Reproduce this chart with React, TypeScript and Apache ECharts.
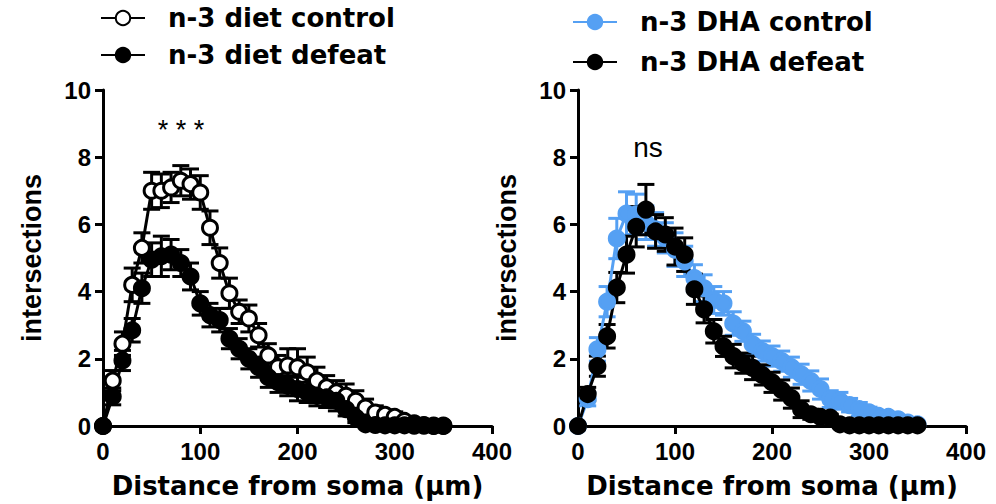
import React, { useEffect, useRef } from "react";
import * as echarts from "echarts";

// Sholl analysis: distance from soma (µm)
const DISTANCE = [
  0, 10, 20, 30, 40, 50, 60, 70, 80, 90, 100, 110, 120, 130, 140, 150, 160, 170,
  180, 190, 200, 210, 220, 230, 240, 250, 260, 270, 280, 290, 300, 310, 320, 330,
  340, 350,
];

const X_TICKS = [0, 100, 200, 300, 400];
const Y_TICKS = [0, 2, 4, 6, 8, 10];

// n-3 diet panel
const DIET_CONTROL = [
  0, 1.35, 2.45, 4.2, 5.3, 7.0, 7.0, 7.1, 7.3, 7.2, 6.95, 5.9, 4.85, 3.95, 3.4,
  3.2, 2.7, 2.1, 1.75, 1.8, 1.75, 1.6, 1.35, 1.15, 1.0, 0.9, 0.75, 0.55, 0.4,
  0.33, 0.27, 0.15, 0.08, 0.03, 0, 0,
];
const DIET_CONTROL_SEM = [
  0, 0.3, 0.35, 0.5, 0.45, 0.55, 0.5, 0.45, 0.45, 0.45, 0.5, 0.5, 0.45, 0.45,
  0.35, 0.4, 0.35, 0.35, 0.35, 0.5, 0.55, 0.45, 0.4, 0.35, 0.35, 0.35, 0.3,
  0.25, 0.2, 0.15, 0.15, 0.1, 0.05, 0.03, 0, 0,
];
const DIET_DEFEAT = [
  0, 0.88, 1.95, 2.85, 4.1, 4.95, 5.05, 5.1, 4.85, 4.45, 3.65, 3.3, 3.15, 2.6,
  2.3, 2.0, 1.75, 1.45, 1.3, 1.2, 1.1, 1.0, 0.9, 0.85, 0.75, 0.5, 0.25, 0.05,
  0.03, 0.02, 0.02, 0.02, 0.01, 0.01, 0.01, 0.01,
];
const DIET_DEFEAT_SEM = [
  0, 0.25, 0.3, 0.35, 0.45, 0.5, 0.6, 0.45, 0.4, 0.4, 0.35, 0.35, 0.35, 0.3,
  0.3, 0.3, 0.3, 0.3, 0.3, 0.3, 0.35, 0.3, 0.3, 0.3, 0.3, 0.2, 0.15, 0.05,
  0.03, 0.02, 0.02, 0.02, 0.01, 0.01, 0.01, 0.01,
];

// n-3 DHA panel
const DHA_CONTROL = [
  0, 0.8, 2.28, 3.7, 5.58, 6.32, 6.3, 6.05, 5.85, 5.6, 5.25, 4.9, 4.4, 4.1,
  3.75, 3.65, 3.05, 2.82, 2.43, 2.23, 2.08, 1.93, 1.75, 1.54, 1.34, 1.1, 0.8,
  0.75, 0.62, 0.5, 0.41, 0.3, 0.27, 0.2, 0.1, 0.05,
];
const DHA_CONTROL_SEM = [
  0, 0.2, 0.35, 0.45, 0.6, 0.65, 0.6, 0.5, 0.5, 0.45, 0.5, 0.45, 0.4, 0.4,
  0.4, 0.35, 0.35, 0.3, 0.3, 0.3, 0.3, 0.3, 0.3, 0.3, 0.3, 0.3, 0.25, 0.25,
  0.2, 0.2, 0.15, 0.15, 0.1, 0.1, 0.05, 0.05,
];
const DHA_DEFEAT = [
  0, 0.95, 1.78, 2.67, 4.12, 5.1, 5.93, 6.44, 5.79, 5.7, 5.34, 5.1, 4.07, 3.47,
  2.82, 2.37, 2.08, 1.87, 1.73, 1.52, 1.3, 1.07, 0.83, 0.5, 0.35, 0.27, 0.25,
  0.05, 0.02, 0.02, 0.02, 0.02, 0.02, 0.02, 0.02, 0.02,
];
const DHA_DEFEAT_SEM = [
  0, 0.2, 0.3, 0.35, 0.45, 0.55, 0.6, 0.75, 0.5, 0.5, 0.55, 0.5, 0.45, 0.4,
  0.35, 0.3, 0.35, 0.3, 0.35, 0.3, 0.3, 0.3, 0.3, 0.25, 0.15, 0.1, 0.1, 0.05,
  0.02, 0.02, 0.02, 0.02, 0.02, 0.02, 0.02, 0.02,
];

const BLACK = "#000000";
const BLUE = "#55a0f3";
const TICK_FONT = "'Liberation Sans', Arial, sans-serif";
const TITLE_FONT = "'DejaVu Sans', Verdana, sans-serif";

const points = (values: number[]) => DISTANCE.map((d, i) => [d, values[i]]);

const bars = (values: number[], sem: number[]) =>
  DISTANCE.map((d, i) => [d, Math.max(0, values[i] - sem[i]), values[i] + sem[i]]).filter(
    (_, i) => sem[i] > 0
  );

function errorSeries(values: number[], sem: number[], color: string, axis: number) {
  return {
    type: "custom",
    xAxisIndex: axis,
    yAxisIndex: axis,
    silent: true,
    clip: false,
    data: bars(values, sem),
    encode: { x: 0, y: [1, 2] },
    renderItem: (_params: any, api: any) => {
      const x = api.value(0);
      const top = api.coord([x, api.value(2)]);
      const bot = api.coord([x, api.value(1)]);
      const hw = 8.5;
      const style = { stroke: color, lineWidth: 3 };
      return {
        type: "group",
        children: [
          { type: "line", shape: { x1: top[0], y1: top[1], x2: bot[0], y2: bot[1] }, style },
          { type: "line", shape: { x1: top[0] - hw, y1: top[1], x2: top[0] + hw, y2: top[1] }, style },
          { type: "line", shape: { x1: bot[0] - hw, y1: bot[1], x2: bot[0] + hw, y2: bot[1] }, style },
        ],
      };
    },
  };
}

function lineSeries(name: string, values: number[], color: string, fill: string, axis: number) {
  return {
    name,
    type: "line",
    xAxisIndex: axis,
    yAxisIndex: axis,
    data: points(values),
    clip: false,
    symbol: "circle",
    symbolSize: 15,
    showAllSymbol: true,
    lineStyle: { color, width: 3 },
    itemStyle: { color: fill, borderColor: color, borderWidth: 3 },
  };
}

function xAxis(grid: number) {
  return {
    type: "value",
    gridIndex: grid,
    min: 0,
    max: 400,
    interval: 100,
    name: "Distance from soma (µm)",
    nameLocation: "middle",
    nameGap: 47,
    nameTextStyle: { fontFamily: TITLE_FONT, fontWeight: "bold", fontSize: 26, color: BLACK },
    axisLine: { show: true, lineStyle: { color: BLACK, width: 3 } },
    axisTick: { show: true, length: 8, lineStyle: { color: BLACK, width: 3 } },
    axisLabel: {
      margin: 13,
      fontFamily: TICK_FONT,
      fontWeight: "bold",
      fontSize: 24,
      color: BLACK,
      formatter: (v: number) => (X_TICKS.includes(v) ? String(v) : ""),
    },
    splitLine: { show: false },
  };
}

function yAxis(grid: number) {
  return {
    type: "value",
    gridIndex: grid,
    min: 0,
    max: 10,
    interval: 2,
    name: "intersections",
    nameLocation: "middle",
    nameGap: 58,
    nameTextStyle: { fontFamily: TICK_FONT, fontWeight: "bold", fontSize: 27, color: BLACK },
    axisLine: { show: true, lineStyle: { color: BLACK, width: 3 } },
    axisTick: { show: true, length: 8, lineStyle: { color: BLACK, width: 3 } },
    axisLabel: {
      margin: 12,
      fontFamily: TICK_FONT,
      fontWeight: "bold",
      fontSize: 24,
      color: BLACK,
      formatter: (v: number) => (Y_TICKS.includes(v) ? String(v) : ""),
    },
    splitLine: { show: false },
  };
}

const legendText = {
  fontFamily: TITLE_FONT,
  fontWeight: "bold",
  fontSize: 26,
  color: BLACK,
  padding: [0, 0, 0, 18],
};

export default function App() {
  const ref = useRef<HTMLDivElement>(null);

  useEffect(() => {
    document.body.style.margin = "0";
    if (!ref.current) return;
    const chart = echarts.init(ref.current, undefined, { renderer: "svg" });
    chart.setOption({
      animation: false,
      backgroundColor: "#ffffff",
      grid: [
        { left: 103, top: 90, width: 389, height: 337 },
        { left: 578, top: 90, width: 388, height: 337 },
      ],
      xAxis: [xAxis(0), xAxis(1)],
      yAxis: [yAxis(0), yAxis(1)],
      legend: [
        {
          orient: "vertical",
          left: 100,
          top: 5,
          padding: 0,
          itemGap: 11,
          itemWidth: 44,
          itemHeight: 18,
          textStyle: legendText,
          data: ["n-3 diet control", "n-3 diet defeat"],
        },
        {
          orient: "vertical",
          left: 572,
          top: 9,
          padding: 0,
          itemGap: 14,
          itemWidth: 44,
          itemHeight: 18,
          textStyle: legendText,
          data: ["n-3 DHA control", "n-3 DHA defeat"],
        },
      ],
      graphic: [
        {
          type: "text",
          x: 181,
          y: 130,
          style: {
            text: "* * *",
            font: `27px ${TICK_FONT}`,
            fill: BLACK,
            align: "center",
            verticalAlign: "middle",
          },
        },
        {
          type: "text",
          x: 648,
          y: 147,
          style: {
            text: "ns",
            font: `28px ${TICK_FONT}`,
            fill: BLACK,
            align: "center",
            verticalAlign: "middle",
          },
        },
      ],
      series: [
        errorSeries(DIET_CONTROL, DIET_CONTROL_SEM, BLACK, 0),
        lineSeries("n-3 diet control", DIET_CONTROL, BLACK, "#ffffff", 0),
        errorSeries(DIET_DEFEAT, DIET_DEFEAT_SEM, BLACK, 0),
        lineSeries("n-3 diet defeat", DIET_DEFEAT, BLACK, BLACK, 0),
        errorSeries(DHA_CONTROL, DHA_CONTROL_SEM, BLUE, 1),
        lineSeries("n-3 DHA control", DHA_CONTROL, BLUE, BLUE, 1),
        errorSeries(DHA_DEFEAT, DHA_DEFEAT_SEM, BLACK, 1),
        lineSeries("n-3 DHA defeat", DHA_DEFEAT, BLACK, BLACK, 1),
      ],
    });
    return () => chart.dispose();
  }, []);

  return <div ref={ref} style={{ width: 996, height: 504 }} />;
}
